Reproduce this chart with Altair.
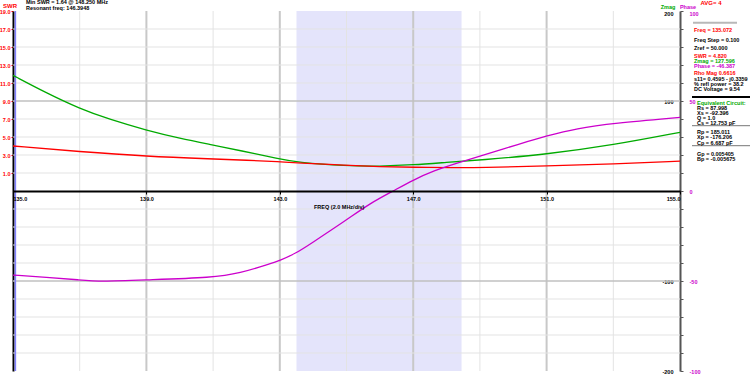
import altair as alt
import pandas as pd

# ---------------- data ----------------
freq_zmag = [135.0, 136.0, 137.0, 137.9, 139.0, 140.0, 141.0, 141.8, 143.0, 143.5,
             145.0, 146.0, 147.0, 148.0, 149.0, 151.0, 153.0, 155.0]
zmag = [128.5, 109.0, 91.5, 79.5, 67.5, 58.5, 51.1, 45.0, 35.6, 32.0,
        27.8, 27.4, 29.0, 31.8, 34.4, 40.7, 51.1, 65.2]

freq_swr = [135.0, 137.0, 139.0, 141.0, 142.0, 143.0, 143.5, 145.0, 146.0, 147.0,
            148.25, 149.0, 151.0, 153.0, 155.0]
swr = [4.0, 3.37, 2.85, 2.56, 2.42, 2.26, 2.13, 1.85, 1.70, 1.63,
       1.60, 1.60, 1.78, 2.0, 2.33]

freq_phase = [135.0, 136.0, 137.0, 137.6, 139.0, 141.0, 141.8, 142.7, 143.0, 143.5,
              143.9, 145.0, 145.7, 146.4, 147.0, 147.6, 148.4, 149.0, 150.2,
              151.0, 151.9, 153.0, 155.0]
phase = [-46.7, -47.9, -49.4, -50.4, -49.4, -48.1, -45.7, -40.5, -38.7, -34.4,
         -29.6, -16.1, -6.9, 0.0, 6.1, 11.2, 16.0, 19.4, 26.2,
         30.6, 34.8, 37.6, 40.9]

band_start = [143.5]
band_end = [148.45]
cursor_freq = [135.072]

x_ticks = [135, 139, 143, 147, 151, 155]
swr_ticks = [1, 3, 5, 7, 9, 11, 13, 15, 17, 19]
zmag_ticks = list(range(-200, 201, 20))
phase_ticks = [-100, -50, 0, 50, 100]

header_lines = ["Min SWR =   1.64 @  148.250 MHz", "Resonant freq:  146.3948"]
panel_top = [
    ("Freq = 135.072", "#ff0000"),
    ("Freq Step = 0.100", "black"),
    ("Zref =  50.000", "black"),
    ("SWR =     4.820", "#ff0000"),
    ("Zmag =  127.596", "#00aa00"),
    ("Phase =  -46.387", "#cc00cc"),
    ("Rho Mag 0.6616", "#ff0000"),
    ("s11= 0.4595 - j0.3359", "black"),
    ("% refl power = 38.2", "black"),
    ("DC Voltage =  9.54", "black"),
]
panel_eq = [
    ("Rs =   87.998", "black"),
    ("Xs =  -92.396", "black"),
    ("Q =  1.0", "black"),
    ("Cs =   12.753  pF", "black"),
    ("Rp =  185.011", "black"),
    ("Xp = -176.206", "black"),
    ("Cp =    6.687  pF", "black"),
    ("Gp =  0.005405", "black"),
    ("Bp = -0.005675", "black"),
]

# ---------------- layout ----------------
W, H = 667, 360
PL, PT = 13, 11
FONT = "Liberation Sans"
FS = 5.5
RED, GREEN, MAG = "#ff0000", "#00aa00", "#cc00cc"

xscale = alt.Scale(domain=[135, 155], nice=False, zero=False)
x_axis = alt.Axis(orient="bottom", offset=-180, values=x_ticks, format=".1f",
                  labelFlush=True, domainColor="black", domainWidth=2,
                  tickColor="black", tickSize=3, labelFontSize=FS, labelFont=FONT,
                  labelFontWeight="bold", labelColor="black", labelPadding=2,
                  grid=False, title=None, zindex=1)

zscale = alt.Scale(domain=[-200, 200], nice=False, zero=False)
z_axis = alt.Axis(orient="right", values=zmag_ticks,
                  labelExpr="abs(datum.value) >= 100 && datum.value % 100 == 0 ? '' + datum.value : ''",
                  labelBaseline={"condition": {"test": "datum.value == 200", "value": "top"},
                                 "value": "middle"},
                  grid=False, domainColor="#555555", domainWidth=2, tickColor="#555555",
                  tickSize=3, labelAlign="right", labelPadding=-10, labelFontSize=FS,
                  labelFont=FONT, labelFontWeight="bold", labelColor="black",
                  title=None, labelOverlap=False, labelBound=False)

sscale = alt.Scale(domain=[-21, 19], nice=False, zero=False)
s_axis = alt.Axis(orient="left", values=swr_ticks, format=".1f", labelColor=RED,
                  tickColor=RED, tickSize=2, domainColor="black", domainWidth=2,
                  labelFontSize=FS, labelFont=FONT, labelFontWeight="bold",
                  labelPadding=1, title=None, grid=False, labelOverlap=False)

pscale = alt.Scale(domain=[-100, 100], nice=False, zero=False)
p_axis = alt.Axis(orient="right", values=phase_ticks, labelExpr="'' + datum.value",
                  labelBaseline={"condition": {"test": "datum.value == 100", "value": "top"},
                                 "value": "middle"},
                  domain=False, ticks=False, labelPadding=9, labelColor=MAG,
                  labelFontSize=FS, labelFont=FONT, labelFontWeight="bold",
                  labelAlign="left", title=None, grid=False, labelOverlap=False)

# shaded band
band = alt.Chart(pd.DataFrame({"s": band_start, "e": band_end})).mark_rect(
    color="#e4e4fb").encode(
    x=alt.X("s:Q", scale=xscale, axis=x_axis), x2="e:Q",
    y=alt.value(0), y2=alt.value(H))

# vertical grid
vg = [f for f in range(137, 155, 2)]
vgrid = alt.Chart(pd.DataFrame({"f": vg, "major": [(f - 135) % 4 == 0 for f in vg]})).mark_rule().encode(
    x=alt.X("f:Q", scale=xscale, axis=x_axis),
    y=alt.value(0), y2=alt.value(H),
    color=alt.condition("datum.major", alt.value("#c8c8c8"), alt.value("#e3e3e3")),
    strokeWidth=alt.condition("datum.major", alt.value(2), alt.value(1)))

# horizontal grid
hg = [v for v in zmag_ticks if v not in (-200, 0, 200)]
hgrid = alt.Chart(pd.DataFrame({"z": hg, "major": [abs(v) == 100 for v in hg]})).mark_rule().encode(
    y=alt.Y("z:Q", scale=zscale, axis=z_axis),
    x=alt.value(0), x2=alt.value(W),
    color=alt.condition("datum.major", alt.value("#c0c0c0"), alt.value("#e3e3e3")),
    strokeWidth=alt.condition("datum.major", alt.value(1.5), alt.value(1)))

cursor = alt.Chart(pd.DataFrame({"f": cursor_freq})).mark_rule(
    color="#7f7fff", strokeWidth=1.5).encode(
    x=alt.X("f:Q", scale=xscale, axis=x_axis), y=alt.value(0), y2=alt.value(H))

green = alt.Chart(pd.DataFrame({"freq": freq_zmag, "zmag": zmag})).mark_line(
    color=GREEN, strokeWidth=1.3, interpolate="basis").encode(
    x=alt.X("freq:Q", scale=xscale, axis=x_axis),
    y=alt.Y("zmag:Q", scale=zscale, axis=z_axis))

zlayer = alt.layer(band, vgrid, hgrid, cursor, green)

red = alt.Chart(pd.DataFrame({"freq": freq_swr, "swr": swr})).mark_line(
    color=RED, strokeWidth=1.3, interpolate="basis").encode(
    x=alt.X("freq:Q", scale=xscale, axis=x_axis),
    y=alt.Y("swr:Q", scale=sscale, axis=s_axis))

mag = alt.Chart(pd.DataFrame({"freq": freq_phase, "phase": phase})).mark_line(
    color=MAG, strokeWidth=1.3, interpolate="basis").encode(
    x=alt.X("freq:Q", scale=xscale, axis=x_axis),
    y=alt.Y("phase:Q", scale=pscale, axis=p_axis))


def txt(s, x, y, color="black", align="left", size=FS):
    return alt.Chart(pd.DataFrame({"t": [s]})).mark_text(
        align=align, baseline="middle", fontSize=size, font=FONT,
        fontWeight="bold", color=color).encode(
        x=alt.value(x - PL), y=alt.value(y - PT), text="t:N")


def hline(x1, x2, y, color, width):
    return alt.Chart(pd.DataFrame({"a": [0]})).mark_rule(
        color=color, strokeWidth=width).encode(
        x=alt.value(x1 - PL), x2=alt.value(x2 - PL), y=alt.value(y - PT))


extras = [
    txt("SWR", 10, 5.7, RED, "center", 6),
    txt(header_lines[0], 26, 1.8),
    txt(header_lines[1], 26, 7.6),
    txt("Zmag", 668, 6.8, GREEN, "center"),
    txt("Phase", 688, 6.8, MAG, "center"),
    txt("AVG=  4", 711, 3, RED, "center", 6),
    txt("FREQ (2.0 MHz/div)", 314, 206.7),
    hline(693, 737, 22.7, "#b8b8b8", 2),
    hline(692, 750, 97, "black", 2),
    hline(692, 750, 125.7, "#777777", 1),
    hline(692, 750, 145.7, "#777777", 1),
    txt("Equivalent Circuit:", 697, 103, GREEN),
]
top_y = [30, 39.7, 48.3, 55.7, 61.3, 66.3, 72.7, 78.7, 84, 89.3]
for (s, c), yy in zip(panel_top, top_y):
    extras.append(txt(s, 694, yy, c))
eq_y = [108, 113, 118.2, 123, 132.3, 137.3, 142.7, 154, 159.3]
for (s, c), yy in zip(panel_eq, eq_y):
    extras.append(txt(s, 697, yy, c))

chart = alt.layer(zlayer, red, mag, *extras).resolve_scale(y="independent").properties(
    width=W, height=H,
    padding={"left": PL, "top": PT, "right": 750 - PL - W, "bottom": 374 - PT - H},
    autosize=alt.AutoSizeParams(type="none"),
    background="white",
).configure_view(stroke=None)

chart.save("out.html", embed_options={"renderer": "svg", "actions": False})
